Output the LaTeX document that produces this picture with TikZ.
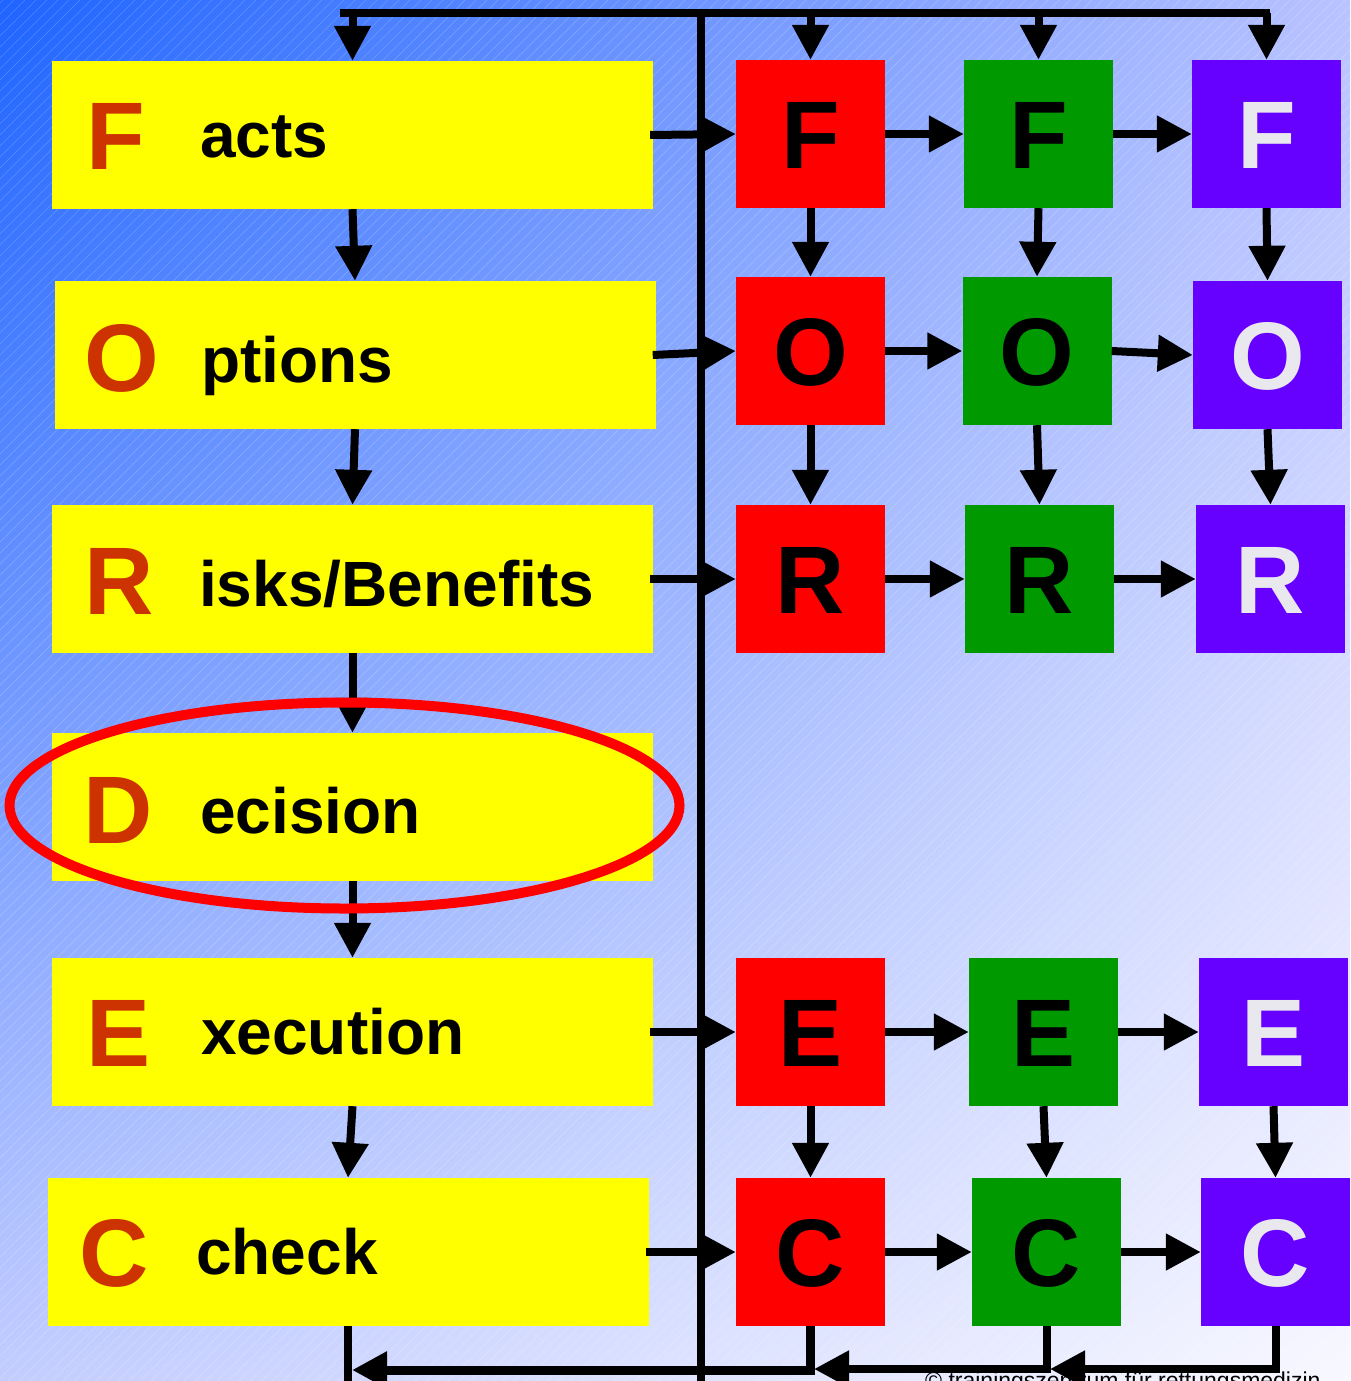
\documentclass[tikz,border=0pt]{standalone}
\usepackage{fontspec}
\setmainfont{Liberation Sans}
\usetikzlibrary{arrows.meta,calc,shapes.geometric,shadings}

\definecolor{yel}{HTML}{FFFF00}
\definecolor{rbox}{HTML}{FF0000}
\definecolor{gbox}{HTML}{009900}
\definecolor{pbox}{HTML}{6600FF}
\definecolor{initial}{HTML}{CC3300}
\definecolor{plet}{HTML}{E8E8EE}
\definecolor{bgUL}{RGB}{30,100,255}
\definecolor{bgUR}{RGB}{185,195,255}
\definecolor{bgLL}{RGB}{195,205,255}
\definecolor{bgLR}{RGB}{248,248,255}

\tikzset{
  yrect/.style={fill=yel, minimum width=601pt, minimum height=148pt, inner sep=0pt},
  grect/.style={minimum width=149pt, minimum height=148pt, inner sep=0pt},
  redbox/.style={grect, fill=rbox},
  greenbox/.style={grect, fill=gbox},
  purplebox/.style={grect, fill=pbox},
  bigletter/.style={font=\fontsize{96}{96}\selectfont\bfseries, inner sep=0pt, anchor=base west, text=initial},
  gridletter/.style={font=\fontsize{96}{96}\selectfont\bfseries, inner sep=0pt, anchor=base},
  wordtext/.style={font=\fontsize{64}{64}\selectfont\bfseries, inner sep=0pt, anchor=base west, text=black},
  arr/.style={line width=8pt, -{Triangle[length=35pt,width=35pt]}},
  ln/.style={line width=8pt},
}

\begin{document}
\begin{tikzpicture}[x=1pt,y=-1pt]
\useasboundingbox (0,0) rectangle (1350,1381);
\begin{scope}
\clip (0,0) rectangle (1350,1381);
\shade[upper left=bgUL, upper right=bgUR, lower left=bgLL, lower right=bgLR] (0,0) rectangle (1350,1381);
\foreach \i in {-1400,-1389,...,1360}
  \draw[white, opacity=0.2, line width=0.7pt] (\i,1381) -- ++(1381,-1381);
\end{scope}

% yellow boxes
\node[yrect] (yF) at (352.5,135) {};
\node[yrect] (yO) at (355,355) {};
\node[yrect] (yR) at (352.5,579) {};
\node[yrect] (yD) at (352.5,807) {};
\node[yrect] (yE) at (352.5,1032) {};
\node[yrect] (yC) at (348,1252) {};

\node[bigletter] (lF) at (86,169) {F};
\node[bigletter] (lO) at (84,391) {O};
\node[bigletter] (lR) at (84,614) {R};
\node[bigletter] (lD) at (83,843) {D};
\node[bigletter] (lE) at (86,1066) {E};
\node[bigletter] (lC) at (79,1286) {C};

\node[wordtext] (wF) at (200,157) {acts};
\node[wordtext] (wO) at (201,382) {ptions};
\node[wordtext] (wR) at (199,606) {isks/Benefits};
\node[wordtext] (wD) at (200,833) {ecision};
\node[wordtext] (wE) at (201,1054) {xecution};
\node[wordtext] (wC) at (196,1274) {check};

% grid boxes
\node[redbox] (rF) at (810.5,134) {};
\node[redbox] (rO) at (810.5,351) {};
\node[redbox] (rR) at (810.5,579) {};
\node[redbox] (rE) at (810.5,1032) {};
\node[redbox] (rC) at (810.5,1252) {};
\node[greenbox] (gF) at (1038.5,134) {};
\node[greenbox] (gO) at (1037,351) {};
\node[greenbox] (gR) at (1039.5,579) {};
\node[greenbox] (gE) at (1043.5,1032) {};
\node[greenbox] (gC) at (1046.5,1252) {};
\node[purplebox] (pF) at (1266.5,134) {};
\node[purplebox] (pO) at (1267.5,355) {};
\node[purplebox] (pR) at (1270.5,579) {};
\node[purplebox] (pE) at (1273.5,1032) {};
\node[purplebox] (pC) at (1275.5,1252) {};

\foreach \n/\t in {rF/F,rO/O,rR/R,rE/E,rC/C,gF/F,gO/O,gR/R,gE/E,gC/C}
  \node[gridletter, text=black] (t\n) at ($(\n.center)+(0,34.4)$) {\t};
\foreach \n/\t in {pF/F,pO/O,pR/R,pE/E,pC/C}
  \node[gridletter, text=plet] (t\n) at ($(\n.center)+(0,34.4)$) {\t};

% copyright (cut off at the lower edge, as in the reference)
\node[font=\fontsize{23}{23}\selectfont, anchor=base west, inner sep=0pt, text=black] (copy) at (925,1388) {© trainingszentrum für rettungsmedizin};

% top distribution line and main vertical line
\coordinate (tl) at (340,13);
\coordinate (tr) at (1270,13);
\coordinate (vt) at (700.5,13);
\coordinate (vb) at (700.5,1381);
\draw[ln] (tl) -- (tr);
\draw[ln] (vt) -- (vb);
\draw[arr] (yF.north |- tl) -- (yF.north);
\draw[arr] (rF.north |- tl) -- (rF.north);
\draw[arr] (gF.north |- tl) -- (gF.north);
\draw[arr] (pF.north |- tl) -- (pF.north);

% yellow column
\draw[arr] (yF.south) -- (yO.north);
\draw[arr] (yO.south) -- (yR.north);
\draw[arr] (yR.south) -- (yD.north);
\draw[arr] (yD.south) -- (yE.north);
\draw[arr] (yE.south) -- (yC.north);

% yellow to red
\draw[arr] ([xshift=-3pt]yF.east) -- (rF.west);
\draw[arr] ([xshift=-3pt]yO.east) -- (rO.west);
\draw[arr] ([xshift=-3pt]yR.east) -- (rR.west);
\draw[arr] ([xshift=-3pt]yE.east) -- (rE.west);
\draw[arr] ([xshift=-3pt]yC.east) -- (rC.west);

% grid horizontals
\foreach \a/\b in {rF/gF,gF/pF,rO/gO,gO/pO,rR/gR,gR/pR,rE/gE,gE/pE,rC/gC,gC/pC}
  \draw[arr] (\a.east) -- (\b.west);
% grid verticals
\foreach \a/\b in {rF/rO,rO/rR,gF/gO,gO/gR,pF/pO,pO/pR,rE/rC,gE/gC,pE/pC}
  \draw[arr] (\a.south) -- (\b.north);

% bottom return lines
\coordinate (bl) at (352,1370);
\coordinate (bg) at (1050,1369);
\coordinate (br) at (814,1369);
\draw[ln] (yC.south) -- (yC.south |- vb);
\draw[arr] (pC.south) |- (bg);
\draw[arr] (gC.south) |- (br);
\draw[arr, line width=9pt] (rC.south) |- (bl);

% decision ring
\node[draw=rbox, line width=10pt, ellipse, minimum width=670pt, minimum height=206pt, inner sep=0pt] (ring) at (344.5,805.5) {};
\end{tikzpicture}
\end{document}
